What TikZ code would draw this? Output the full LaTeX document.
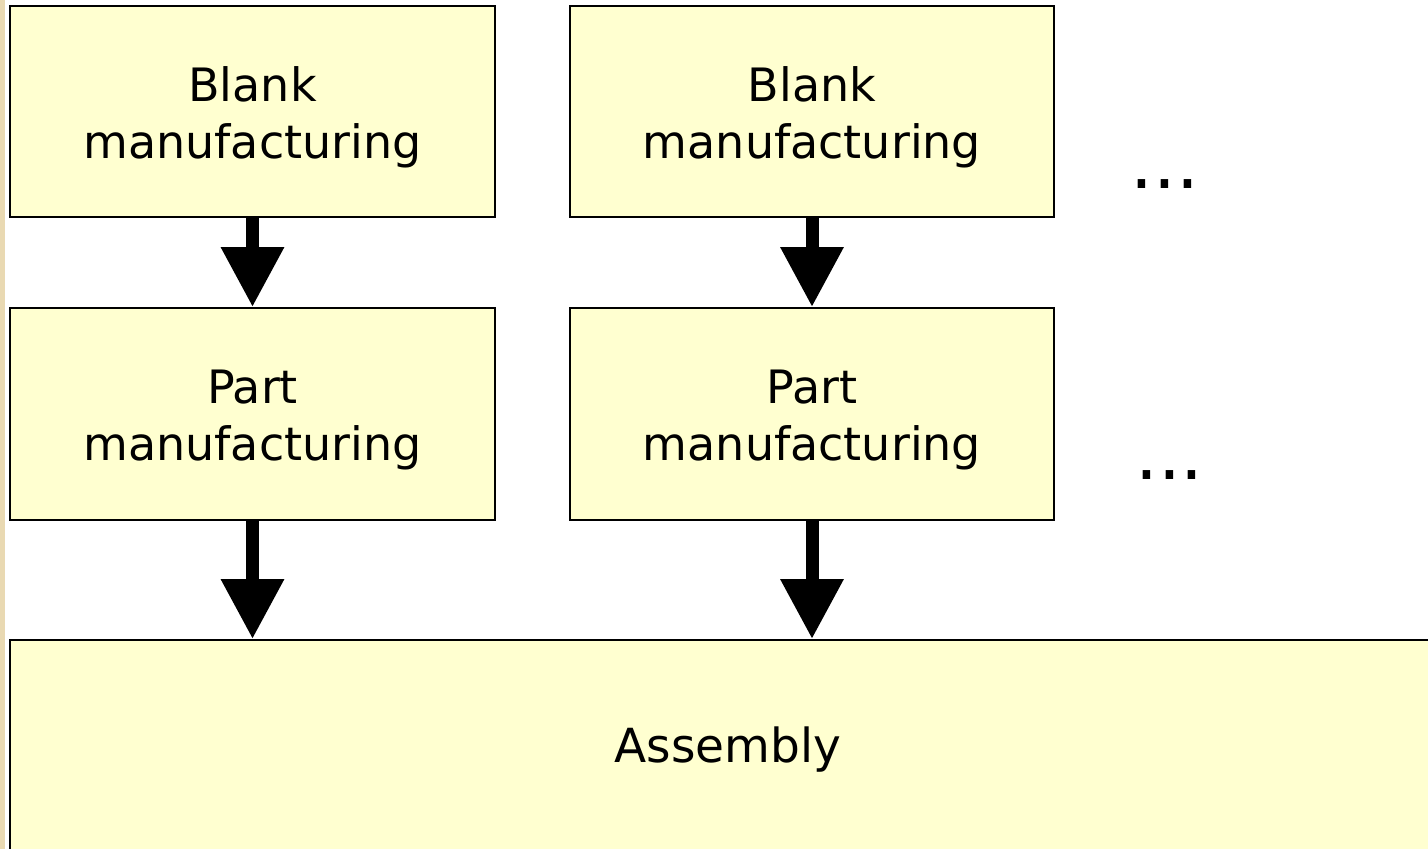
\documentclass[tikz,border=0pt]{standalone}
\usepackage{fontspec}
\setmainfont{DejaVu Sans}
\usetikzlibrary{arrows.meta}
\definecolor{boxfill}{HTML}{FFFFD0}
\definecolor{tan}{HTML}{E9D9B2}
\tikzset{
  procbox/.style={draw=black, line width=2pt, fill=boxfill, inner sep=0pt},
  boxtext/.style={inner sep=0pt, align=center, font=\fontsize{46}{57}\selectfont},
  flowarrow/.style={line width=13pt, -{Triangle[length={60pt 0},width={60pt 0}]}},
  dots/.style={font=\fontsize{72}{72}\selectfont, inner sep=0pt, anchor=base}
}
\begin{document}
\begin{tikzpicture}[x=1pt,y=-1pt]
\useasboundingbox (0,0) rectangle (1428,849);
\clip (0,0) rectangle (1428,849);
\fill[white] (0,0) rectangle (1428,849);
\fill[tan] (0,0) rectangle (5,849);
\node[procbox, minimum width=485pt, minimum height=211pt] (b1) at (252.5,111.5) {};
\node[procbox, minimum width=484pt, minimum height=211pt] (b2) at (812,111.5) {};
\node[procbox, minimum width=485pt, minimum height=212pt] (p1) at (252.5,414) {};
\node[procbox, minimum width=484pt, minimum height=212pt] (p2) at (812,414) {};
\node[procbox, minimum width=1436pt, minimum height=220pt] (asm) at (728,750) {};
\node[boxtext] (b1t) at ([yshift=-6pt]b1.center) {Blank\\manufacturing};
\node[boxtext] (b2t) at ([yshift=-6pt]b2.center) {Blank\\manufacturing};
\node[boxtext] (p1t) at ([yshift=-6pt]p1.center) {Part\\manufacturing};
\node[boxtext] (p2t) at ([yshift=-6pt]p2.center) {Part\\manufacturing};
\node[boxtext, font=\fontsize{47}{57}\selectfont] (asmt) at (728,750) {Assembly};
\node[dots] (d1) at (1165,188) {...};
\node[dots] (d2) at (1169.5,479) {...};
\draw[flowarrow] (b1.south) -- (p1.north);
\draw[flowarrow] (b2.south) -- (p2.north);
\coordinate (a1) at (p1.south |- asm.north);
\coordinate (a2) at (p2.south |- asm.north);
\draw[flowarrow] (p1.south) -- (a1);
\draw[flowarrow] (p2.south) -- (a2);
\end{tikzpicture}
\end{document}
